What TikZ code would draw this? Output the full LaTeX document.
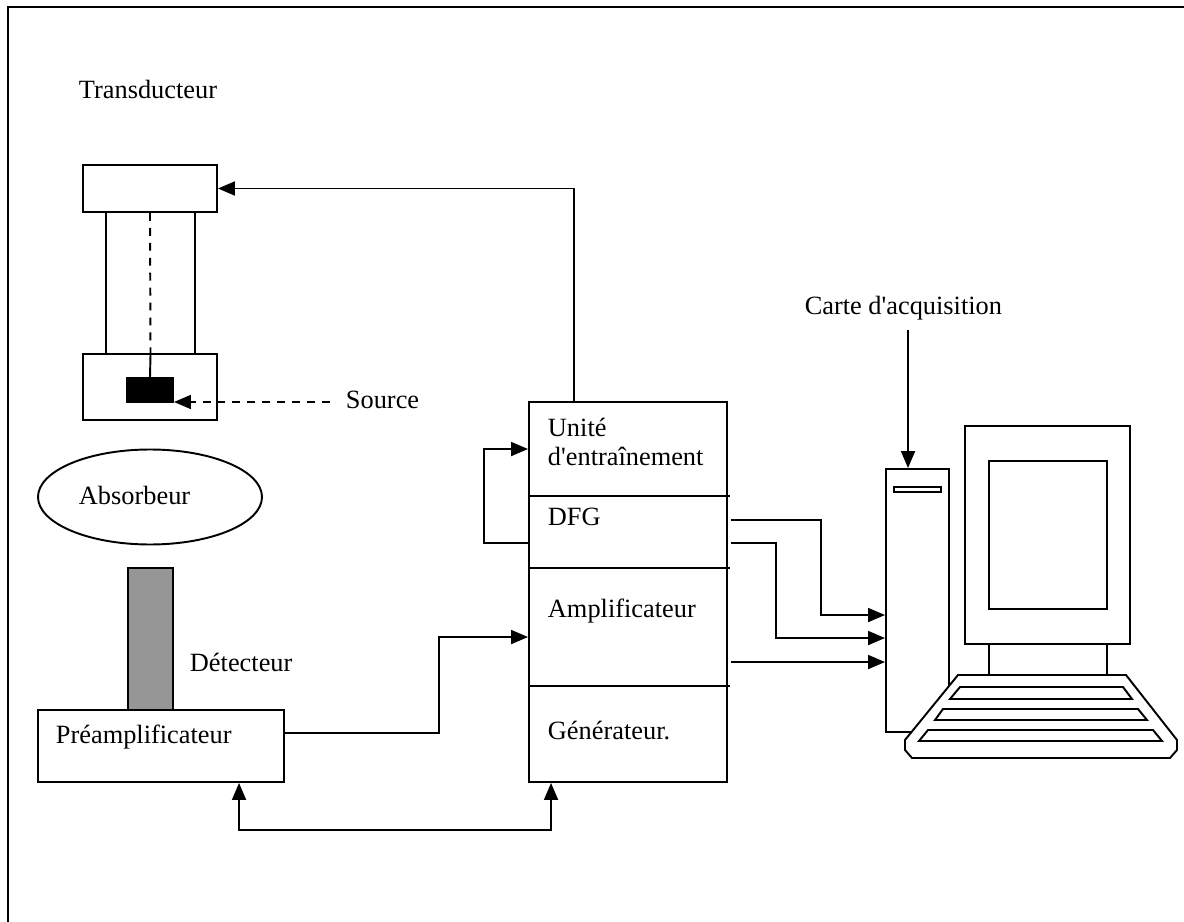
\documentclass[tikz,border=0pt]{standalone}
\usepackage{fontspec}
\setmainfont{Liberation Serif}
\usetikzlibrary{arrows.meta,calc,shapes.geometric}

\definecolor{detgray}{RGB}{150,150,150}

\tikzset{
  box/.style 2 args={draw, inner sep=0pt, minimum width=#1*0.02cm, minimum height=#2*0.02cm},
  lbl/.style={anchor=west, inner sep=0pt, text height=0.7em, text depth=0pt},
  arr/.style={-{Triangle[length=0.34cm,width=0.28cm]}},
  dblarr/.style={{Triangle[length=0.34cm,width=0.28cm]}-{Triangle[length=0.34cm,width=0.28cm]}},
  dashline/.style={dash pattern=on 4.5pt off 4pt},
}

\begin{document}
\begin{tikzpicture}[x=0.02cm, y=-0.02cm, line width=1.1pt, font=\fontsize{15}{17}\selectfont]

\useasboundingbox (0,0) rectangle (1184,922);
% Frame (only top and left edges fall inside the page):
\draw (8,922) -- (8,7) -- (1184,7);

% Transducer with its source:
\node[lbl] (trlabel) at (78,92) {Transducteur};
\node[box={134}{47}] (head) at (150,188.5) {};
\node[box={89}{142}] (tube) at (150.5,283) {};
\node[box={134}{66}] (holder) at (150,387) {};
\node[box={46}{24}, fill=black] (pellet) at (150,390) {};
\draw[dashline] (head.south) -- (tube.south);
\draw (tube.south) -- (pellet.north);
\node[lbl] (source) at (345,402) {Source};
\draw[dashline, arr] ([xshift=-0.3cm]source.west) -- (source.west -| pellet.east);

% Absorber, detector and preamp:
\node[draw, ellipse, minimum width=224*0.02cm, minimum height=95*0.02cm] (absorbeur) at (150,497) {};
\node[lbl] (abslabel) at (78,498) {Absorbeur};
\node[box={45}{142}, fill=detgray] (detecteur) at (150.5,639) {};
\node[lbl] (detlabel) at (189,665) {Détecteur};
\node[box={246}{72}] (preamp) at (161,746) {};
\node[lbl] (prelabel) at (55,737) {Préamplificateur};

% Electronics rack:
\node[box={198}{380}] (unit) at (628,592) {};
\draw ($(unit.north west)+(0,95)$) -- ++(202,0);
\draw ($(unit.north west)+(0,167)$) -- ++(202,0);
\draw ($(unit.north west)+(0,285)$) -- ++(202,0);
\node[anchor=west, inner sep=0pt, align=left] (drive) at (547,442) {Unité\\d\textquotesingle entraînement};
\node[lbl] (dfg) at (547,519) {DFG};
\node[lbl] (ampli) at (547,611) {Amplificateur};
\node[lbl] (gene) at (547,733) {Générateur.};

% Computer:
\node[box={63}{263}] (tower) at (917.5,600.5) {};
\node[box={47}{5}, line width=0.8pt] (slot) at (917.5,489.5) {};
\node[box={165}{218}] (monitor) at (1047.5,535) {};
\node[box={118}{148}] (screen) at (1048,535) {};
\node[box={118}{31}] (neck) at (1048,659.5) {};
\draw[fill=white] (958,675) -- (1126,675) -- (1177,740) -- (1177,750) -- (1170,758)
        -- (912,758) -- (905,750) -- (905,740) -- cycle;
\draw (960,687) -- (1123,687) -- (1132,699) -- (950,699) -- cycle;
\draw (943,709) -- (1138,709) -- (1147,720) -- (935,720) -- cycle;
\draw (928,730) -- (1153,730) -- (1162,741) -- (919,741) -- cycle;
\node[anchor=east, inner sep=0pt, text height=0.7em, text depth=0pt] (carte) at (1003,308) {Carte d\textquotesingle acquisition};
\draw[arr] ($(tower.north west)+(23,-138)$) -- ($(tower.north west)+(23,0)$);

% Signal lines:
\draw[arr] ($(unit.north west)+(46,0)$) |- (head.east);
\draw[arr] ($(unit.north west)+(0,142)$) -- ++(-44,0) |- ($(unit.north west)+(0,48)$);
\draw[arr] ($(preamp.north east)+(0,24)$) -| ($(unit.north west)+(-89,236)$) -- ($(unit.north west)+(0,236)$);
\draw[dblarr] ($(preamp.south west)+(202,0)$) -- ++(0,47) -| ($(unit.south west)+(23,0)$);
\draw[arr] ($(unit.north east)+(3,119)$) -- ++(90,0) |- ($(tower.north west)+(0,147)$);
\draw[arr] ($(unit.north east)+(3,142)$) -- ++(45,0) |- ($(tower.north west)+(0,170)$);
\draw[arr] ($(unit.north east)+(3,261)$) -- ($(tower.north west)+(0,194)$);

\end{tikzpicture}
\end{document}
